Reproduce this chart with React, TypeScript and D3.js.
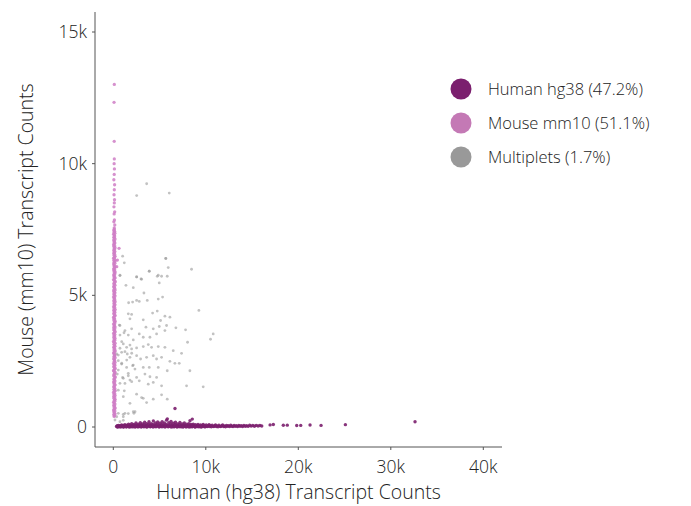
import React from 'react';
import * as d3 from 'd3';

// cell barcodes: [human transcript count, mouse transcript count]
const humanCells: [number, number][] = [
  [350, 20], [420, 45], [500, 10], [560, 60], [610, 25], [680, 5], [720, 50], [790, 30], [850, 10], [900, 80],
  [960, 40], [1010, 15], [1080, 60], [1130, 5], [1190, 35], [1250, 90], [1300, 20], [1360, 55], [1420, 10], [1480, 70],
  [1530, 35], [1590, 15], [1650, 110], [1700, 45], [1760, 20], [1820, 75], [1880, 5], [1930, 40], [1990, 130], [2050, 25],
  [2110, 60], [2160, 10], [2220, 95], [2280, 35], [2340, 15], [2400, 70], [2450, 150], [2510, 30], [2570, 55], [2630, 5],
  [2690, 110], [2750, 40], [2800, 20], [2860, 80], [2920, 160], [2980, 30], [3040, 60], [3100, 15], [3150, 120], [3210, 45],
  [3270, 20], [3330, 90], [3390, 180], [3450, 35], [3510, 65], [3560, 10], [3620, 130], [3680, 50], [3740, 25], [3800, 95],
  [3860, 200], [3920, 35], [3980, 75], [4030, 15], [4090, 130], [4150, 50], [4210, 25], [4270, 100], [4330, 230], [4390, 40],
  [4450, 70], [4500, 15], [4560, 150], [4620, 55], [4680, 30], [4740, 110], [4800, 190], [4860, 35], [4920, 80], [4980, 20],
  [5040, 140], [5100, 50], [5160, 20], [5220, 95], [5280, 200], [5340, 40], [5400, 75], [5460, 15], [5520, 150], [5580, 50],
  [5640, 25], [5700, 105], [5760, 260], [5820, 35], [5880, 70], [5940, 20], [6000, 160], [6060, 50], [6120, 25], [6180, 110],
  [6240, 210], [6300, 35], [6360, 75], [6420, 10], [6480, 140], [6540, 45], [6600, 20], [6660, 95], [6720, 180], [6780, 35],
  [6840, 65], [6900, 15], [6960, 120], [7020, 40], [7080, 20], [7140, 90], [7200, 170], [7260, 30], [7320, 60], [7380, 10],
  [7440, 115], [7500, 40], [7560, 20], [7620, 80], [7680, 150], [7740, 30], [7800, 60], [7860, 10], [7920, 105], [7980, 35],
  [8040, 20], [8100, 75], [8160, 130], [8220, 30], [8280, 55], [8340, 10], [8400, 95], [8460, 35], [8520, 20], [8580, 65],
  [8640, 110], [8700, 25], [8760, 50], [8820, 10], [8880, 85], [8950, 35], [9020, 15], [9090, 60], [9160, 100], [9230, 25],
  [9300, 50], [9370, 10], [9440, 80], [9510, 30], [9580, 15], [9650, 60], [9720, 95], [9800, 25], [9880, 45], [9960, 10],
  [10040, 75], [10120, 30], [10200, 15], [10280, 55], [10360, 90], [10440, 20], [10520, 45], [10600, 10], [10690, 70], [10780, 25],
  [10870, 15], [10960, 50], [11050, 80], [11140, 20], [11230, 40], [11320, 10], [11420, 65], [11520, 25], [11620, 15], [11720, 50],
  [11820, 75], [11920, 20], [12020, 40], [12130, 10], [12240, 60], [12350, 25], [12460, 45], [12580, 15], [12700, 65], [12820, 30],
  [12940, 20], [13060, 55], [13180, 25], [13310, 45], [13440, 15], [13570, 60], [13700, 30], [13840, 50], [13980, 20], [14120, 60],
  [14270, 30], [14420, 50], [14580, 25], [14740, 65], [14900, 35], [15080, 55], [15260, 30], [15450, 60], [15650, 40], [15850, 55],
  [16050, 40], [16950, 80], [17300, 95], [18380, 65], [18810, 70], [19830, 55], [20260, 60], [21270, 75], [22460, 60], [25090, 90],
  [32620, 200], [6670, 700], [8540, 300], [8290, 240], [5840, 310],
  // lower edge of the band
  [460, 0], [780, 5], [1100, 0], [1400, 5], [1720, 0], [2030, 5], [2370, 0], [2700, 5], [3010, 0], [3330, 5],
  [3650, 0], [3980, 5], [4300, 0], [4620, 5], [4950, 0], [5270, 5], [5600, 0], [5920, 5], [6250, 0], [6570, 5],
  [6890, 0], [7210, 5], [7540, 0], [7870, 5], [8190, 0], [8520, 5], [8850, 0], [9180, 5], [9520, 0], [9850, 5],
];

const mouseCells: [number, number][] = [
  [90, 400], [150, 430], [40, 470], [190, 500], [110, 540], [60, 580], [170, 610], [30, 650], [130, 690], [210, 720],
  [80, 760], [140, 800], [50, 830], [180, 870], [100, 910], [30, 940], [160, 980], [120, 1020], [200, 1050], [70, 1090],
  [140, 1130], [40, 1160], [190, 1200], [90, 1240], [150, 1270], [20, 1310], [120, 1350], [210, 1380], [60, 1420], [170, 1460],
  [100, 1490], [40, 1530], [140, 1570], [200, 1600], [80, 1640], [130, 1680], [30, 1710], [180, 1750], [110, 1790], [60, 1820],
  [160, 1860], [220, 1900], [90, 1930], [40, 1970], [150, 2010], [120, 2040], [190, 2080], [70, 2120], [30, 2150], [140, 2190],
  [210, 2230], [100, 2260], [50, 2300], [170, 2340], [130, 2370], [20, 2410], [190, 2450], [80, 2480], [150, 2520], [110, 2560],
  [40, 2590], [200, 2630], [60, 2670], [140, 2700], [170, 2740], [90, 2780], [30, 2810], [120, 2850], [210, 2890], [70, 2920],
  [160, 2960], [100, 3000], [40, 3030], [180, 3070], [130, 3110], [60, 3140], [200, 3180], [90, 3220], [20, 3250], [150, 3290],
  [110, 3330], [190, 3360], [50, 3400], [140, 3440], [80, 3470], [170, 3510], [30, 3550], [120, 3580], [210, 3620], [100, 3660],
  [60, 3690], [160, 3730], [40, 3770], [190, 3800], [90, 3840], [130, 3880], [20, 3910], [170, 3950], [110, 3990], [200, 4020],
  [50, 4060], [150, 4100], [80, 4130], [30, 4170], [140, 4210], [190, 4240], [100, 4280], [60, 4320], [170, 4350], [120, 4390],
  [40, 4430], [210, 4460], [90, 4500], [150, 4540], [30, 4570], [130, 4610], [180, 4650], [70, 4680], [110, 4720], [200, 4760],
  [40, 4790], [160, 4830], [90, 4870], [140, 4900], [20, 4940], [190, 4980], [110, 5010], [60, 5050], [170, 5090], [130, 5120],
  [30, 5160], [200, 5200], [80, 5230], [150, 5270], [100, 5310], [40, 5340], [180, 5380], [120, 5420], [60, 5450], [160, 5490],
  [210, 5530], [90, 5560], [30, 5600], [140, 5640], [190, 5670], [70, 5710], [120, 5750], [40, 5780], [170, 5820], [100, 5860],
  [200, 5890], [60, 5930], [150, 5970], [30, 6000], [130, 6040], [180, 6080], [80, 6110], [110, 6150], [40, 6190], [170, 6220],
  [90, 6260], [200, 6300], [60, 6330], [140, 6370], [30, 6410], [120, 6440], [190, 6480], [80, 6520], [150, 6550], [50, 6590],
  [110, 6630], [170, 6660], [40, 6700], [130, 6740], [90, 6770], [190, 6810], [60, 6850], [150, 6880], [30, 6920], [110, 6960],
  [170, 6990], [80, 7030], [130, 7070], [40, 7100], [190, 7140], [100, 7180], [60, 7210], [150, 7250], [120, 7290], [30, 7320],
  [170, 7360], [90, 7400], [140, 7430], [60, 7470], [110, 7510], [100, 7560], [160, 7670], [60, 7790], [120, 7860], [90, 8090],
  [150, 8170], [70, 8360], [110, 8510], [130, 8630], [80, 8820], [110, 9010], [140, 9200], [60, 9390], [100, 9590], [120, 9800],
  [90, 10000], [110, 10180], [100, 10850], [80, 12330], [110, 13010], [620, 6785], [440, 6340], [370, 6087],
];

const multiplets: [number, number][] = [
  [1008, 6487], [1188, 6233], [5688, 6398], [5940, 6055], [8460, 5991], [3888, 5915], [720, 5762], [2520, 5699], [3060, 5610], [4860, 5762],
  [5220, 5724], [5832, 5724], [4968, 5470], [1368, 5381], [2160, 5292], [3312, 5088], [1656, 4719], [2088, 4745], [2520, 4808], [2808, 4770],
  [3672, 4808], [4860, 4859], [5328, 4935], [9252, 4427], [1620, 4299], [1980, 4274], [4248, 4325], [4752, 4401], [5580, 4210], [6120, 4172],
  [1800, 4109], [3240, 4070], [5112, 4045], [720, 3854], [1260, 3663], [1980, 3727], [2808, 3536], [3528, 3791], [4320, 3727], [4968, 3816],
  [5760, 3854], [6768, 3765], [7812, 3689], [10800, 3536], [10512, 3333], [8028, 3218], [2160, 3307], [3240, 3409], [3960, 3409], [4680, 3536],
  [5580, 3663], [1080, 3155], [1440, 3027], [1980, 2964], [2520, 3002], [3240, 3053], [3780, 3129], [4140, 3027], [4860, 3053], [5580, 3027],
  [6480, 2900], [7380, 2798], [360, 2773], [900, 2837], [1512, 2773], [1800, 2646], [2520, 2709], [2952, 2582], [3600, 2646], [4320, 2709],
  [4680, 2582], [5220, 2646], [6120, 2493], [7128, 2417], [8280, 2137], [540, 2519], [900, 2391], [1440, 2264], [2088, 2328], [2340, 2201],
  [3240, 2264], [3888, 2264], [4860, 2264], [5832, 2137], [6660, 2417], [432, 2010], [1008, 1883], [1620, 1946], [2520, 1883], [3420, 2010],
  [3960, 1908], [4680, 1883], [1260, 1654], [1800, 1781], [2808, 1755], [3780, 1628], [4320, 1692], [5220, 1565], [7920, 1565], [9720, 1526],
  [1188, 1374], [2520, 1247], [3060, 1119], [3600, 929], [4320, 1056], [5220, 1221], [5832, 1056], [1080, 483], [1620, 509], [2232, 521],
  [1080, 254], [2527, 8790], [3607, 9237], [6048, 8882], [5659, 6401], [3888, 5916], [724, 5752], [2527, 5699], [2992, 5622], [4752, 5720],
  [650, 3870], [1160, 3580], [720, 3490], [1620, 3490], [910, 3240], [1800, 3110], [720, 2990], [1260, 2860], [1990, 2800], [540, 2730],
  [1450, 2540], [910, 2420], [2160, 2350], [540, 2160], [1620, 2040], [1080, 1850], [720, 1660], [1990, 1720], [540, 1400], [1080, 1150],
  [1800, 900], [370, 390], [1260, 520], [2160, 580], [3240, 1090], [540, 520], [1080, 390], [2350, 580], [180, 265], [720, 200],
];

const legendItems = [
  { label: 'Human hg38 (47.2%)', color: '#7b1f6e' },
  { label: 'Mouse mm10 (51.1%)', color: '#c479b5' },
  { label: 'Multiplets (1.7%)', color: '#999999' },
];

const xTicks = [0, 10000, 20000, 30000, 40000];
const yTicks = [0, 5000, 10000, 15000];

const fmt = (v: number) => (v === 0 ? '0' : `${v / 1000}k`);

const App: React.FC = () => {
  const width = 691;
  const height = 506;
  const left = 95;
  const right = 502;
  const top = 12;
  const bottom = 447;

  const x = d3.scaleLinear().domain([-2000, 42000]).range([94.8, 501.8]);
  const y = d3.scaleLinear().domain([0, 15000]).range([427, 32]);

  const font = "'Open Sans', sans-serif";
  const textColor = '#222';
  const axisColor = '#555';

  return (
    <svg
      width={width}
      height={height}
      style={{ position: 'absolute', left: 0, top: 0, background: '#fff' }}
      fontFamily={font}
    >
      {/* axes */}
      <line x1={left} x2={left} y1={top} y2={bottom} stroke={axisColor} strokeWidth={1} />
      <line x1={left} x2={right} y1={bottom} y2={bottom} stroke={axisColor} strokeWidth={1} />
      {yTicks.map((t) => (
        <g key={`y${t}`}>
          <line x1={left - 3} x2={left} y1={y(t)} y2={y(t)} stroke={axisColor} />
          <text x={left - 8} y={y(t)} dy="0.35em" textAnchor="end" fontSize={17.5} fontWeight={300} fill={textColor}>
            {fmt(t)}
          </text>
        </g>
      ))}
      {xTicks.map((t) => (
        <g key={`x${t}`}>
          <line x1={x(t)} x2={x(t)} y1={bottom} y2={bottom + 3} stroke={axisColor} />
          <text x={x(t)} y={467} dy="0.35em" textAnchor="middle" fontSize={17.5} fontWeight={300} fill={textColor}>
            {fmt(t)}
          </text>
        </g>
      ))}
      <text x={(left + right) / 2} y={499} textAnchor="middle" fontSize={19.5} fontWeight={300} fill={textColor}>
        Human (hg38) Transcript Counts
      </text>
      <text
        transform={`translate(33, ${(top + bottom) / 2}) rotate(-90)`}
        textAnchor="middle"
        fontSize={19.5}
        fontWeight={300}
        fill={textColor}
      >
        Mouse (mm10) Transcript Counts
      </text>

      {/* points */}
      <g fill="#999" fillOpacity={0.6}>
        {multiplets.map((d, i) => (
          <circle key={i} cx={x(d[0])} cy={y(d[1])} r={1.4} />
        ))}
      </g>
      <g fill="#cf7ec6" fillOpacity={0.85}>
        {mouseCells.map((d, i) => (
          <circle key={i} cx={x(d[0])} cy={y(d[1])} r={1.65} />
        ))}
      </g>
      <g fill="#7b1f6e" fillOpacity={0.9}>
        {humanCells.map((d, i) => (
          <circle key={i} cx={x(d[0])} cy={y(d[1])} r={1.7} />
        ))}
      </g>

      {/* legend */}
      {legendItems.map((item, i) => (
        <g key={item.label} transform={`translate(461, ${89 + i * 34})`}>
          <circle r={10.5} fill={item.color} />
          <text x={27} dy="0.35em" fontSize={16.5} fontWeight={300} fill={textColor}>
            {item.label}
          </text>
        </g>
      ))}
    </svg>
  );
};

export default App;
